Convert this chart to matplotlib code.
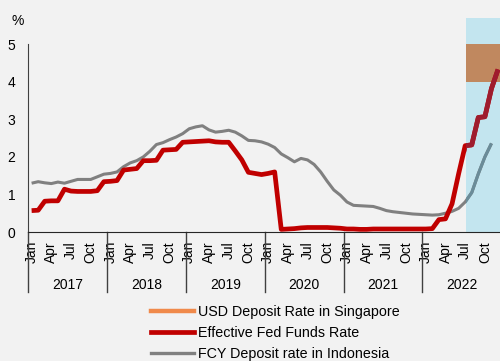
import matplotlib.pyplot as plt
import matplotlib.transforms as mtransforms
from matplotlib.lines import Line2D
import numpy as np

plt.rcParams['font.family'] = ['Liberation Sans', 'DejaVu Sans']
plt.rcParams['font.size'] = 10

# ===== Data: monthly, Jan 2017 - Dec 2022 =====
years = ['2017', '2018', '2019', '2020', '2021', '2022']
month_ticks = ['Jan', 'Apr', 'Jul', 'Oct']

fed_funds = [
    0.57, 0.58, 0.82, 0.83, 0.83, 1.14, 1.09, 1.08, 1.08, 1.08, 1.10, 1.34,  # 2017
    1.35, 1.37, 1.65, 1.67, 1.69, 1.90, 1.90, 1.91, 2.18, 2.19, 2.20, 2.39,  # 2018
    2.40, 2.41, 2.42, 2.43, 2.40, 2.39, 2.39, 2.16, 1.92, 1.59, 1.56, 1.53,  # 2019
    1.56, 1.60, 0.07, 0.08, 0.09, 0.11, 0.12, 0.12, 0.12, 0.12, 0.11, 0.10,  # 2020
    0.08, 0.08, 0.07, 0.07, 0.08, 0.08, 0.08, 0.08, 0.08, 0.08, 0.08, 0.08,  # 2021
    0.08, 0.09, 0.33, 0.35, 0.75, 1.55, 2.30, 2.32, 3.05, 3.07, 3.82, 4.33,  # 2022
]

fcy_indonesia = [
    1.30, 1.34, 1.31, 1.29, 1.33, 1.30, 1.35, 1.40, 1.40, 1.40, 1.47, 1.54,  # 2017
    1.56, 1.60, 1.74, 1.84, 1.90, 2.00, 2.15, 2.33, 2.38, 2.46, 2.53, 2.62,  # 2018
    2.75, 2.80, 2.83, 2.72, 2.66, 2.68, 2.71, 2.66, 2.56, 2.44, 2.43, 2.40,  # 2019
    2.34, 2.25, 2.08, 1.98, 1.87, 1.96, 1.92, 1.80, 1.60, 1.35, 1.12, 0.98,  # 2020
    0.80, 0.71, 0.70, 0.69, 0.68, 0.63, 0.57, 0.54, 0.52, 0.50, 0.48, 0.47,  # 2021
    0.46, 0.45, 0.46, 0.50, 0.55, 0.63, 0.80, 1.05, 1.55, 2.00, 2.36, np.nan,  # 2022
]

# USD deposit rate range in Singapore (shown as a band)
sg_usd_range = [4.0, 5.0]

# ===== Colours =====
bg = '#f2f2f2'
red = '#c00000'
red_shaded = '#9e1c2e'
grey = '#808080'
grey_shaded = '#6a8c99'
orange = '#f08a4b'
band = '#c0885f'
shade = '#c3e5ef'

x = np.arange(len(fed_funds))
x_left, x_right = -0.55, 71.3
shade_start = 66.2

fig = plt.figure(figsize=(5.0, 3.61), dpi=100, facecolor=bg)
ax = fig.add_axes([28 / 500, 1 - 232 / 361, 1 - 28 / 500, (232 - 18) / 361])
ax.set_facecolor(bg)

# shaded outlook period
span = ax.axvspan(shade_start, x_right, color=shade, lw=0, zorder=1)
ax.fill_between([shade_start, x_right], sg_usd_range[0], sg_usd_range[1],
                color=band, lw=0, zorder=2)

ax.plot(x, fcy_indonesia, color=grey, lw=2.2, zorder=3,
        solid_joinstyle='round', solid_capstyle='butt')
ax.plot(x, fed_funds, color=red, lw=3.4, zorder=4,
        solid_joinstyle='round', solid_capstyle='butt')

# darker copies of the lines inside the shaded period
for series, col, lw, z in [(fcy_indonesia, grey_shaded, 2.2, 5),
                           (fed_funds, red_shaded, 3.4, 6)]:
    ln, = ax.plot(x, series, color=col, lw=lw, zorder=z,
                  solid_joinstyle='round', solid_capstyle='butt')
    ln.set_clip_path(span)

ax.set_xlim(x_left, x_right)
ax.set_ylim(0, 5.7)
ax.set_yticks([0, 1, 2, 3, 4, 5])
ax.tick_params(axis='y', length=0, pad=9, labelsize=10)

tick_pos = [i for i in x if i % 3 == 0]
ax.set_xticks(tick_pos)
ax.set_xticklabels([month_ticks[(i % 12) // 3] for i in tick_pos], rotation=90, va='top')
ax.tick_params(axis='x', length=0, pad=6.5, labelsize=10)

for side in ['top', 'right']:
    ax.spines[side].set_visible(False)
ax.spines['left'].set_bounds(0, 5)
ax.spines['left'].set_color('#404040')
ax.spines['bottom'].set_color('#262626')

# year labels and separators below the axis
trans = mtransforms.blended_transform_factory(ax.transData, ax.transAxes)
ax_h = 232 - 18
for k, yr in enumerate(years):
    ax.text(12 * k + 5.5, -53 / ax_h, yr, transform=trans, ha='center', va='center',
            fontsize=10)
for k in range(len(years) + 1):
    ax.plot([12 * k - 0.5] * 2, [0, -60 / ax_h], transform=trans, color='#404040',
            lw=1, clip_on=False)

fig.text(12 / 500, 1 - 21 / 361, '%', ha='left', va='center', fontsize=10)

handles = [
    Line2D([], [], color=orange, lw=3.2),
    Line2D([], [], color=red, lw=3.4),
    Line2D([], [], color=grey, lw=2.4),
]
labels = ['USD Deposit Rate in Singapore', 'Effective Fed Funds Rate',
          'FCY Deposit rate in Indonesia']
fig.legend(handles, labels, loc='upper left', bbox_to_anchor=(151 / 500, 1 - 305 / 361),
           frameon=False, fontsize=10.3, handlelength=3.0, handletextpad=0.3,
           labelspacing=0.5, borderpad=0, borderaxespad=0)

fig.savefig('out.png', dpi=100, facecolor=bg)
